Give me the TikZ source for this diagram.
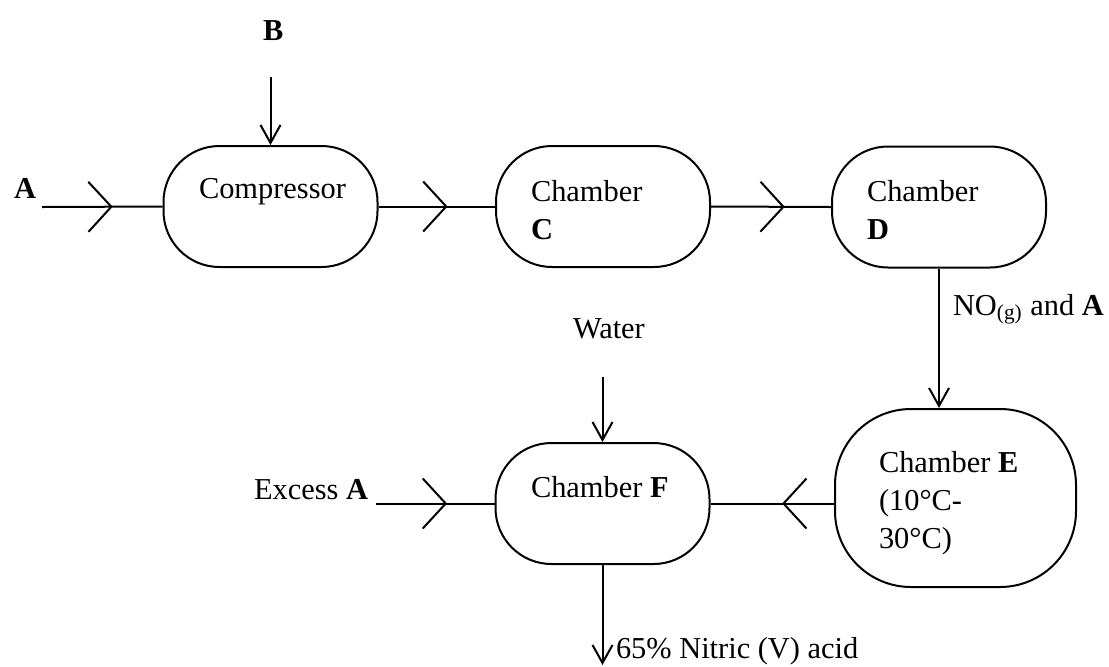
\documentclass[tikz,border=0pt]{standalone}
\usepackage{fontspec}
\setmainfont{Liberation Serif}
\usetikzlibrary{arrows.meta,decorations.markings}

\tikzset{flow/.style={postaction={decorate},
    decoration={markings,mark=at position #1 with {\arrow{Straight Barb[length=11.5pt,width=25pt]}}}}}

\begin{document}
\begin{tikzpicture}[x=0.5pt,y=-0.5pt,line width=1pt,>={Straight Barb[length=9pt,width=10pt]}]
    \tikzstyle{every node}=[font=\fontsize{15.2}{19}\selectfont]
    \tikzstyle{chamber}=[draw,rounded corners=28pt,minimum width=107pt,minimum height=60.5pt,inner sep=0pt]
    \tikzstyle{txt}=[inner sep=0pt,anchor=base west]
    \tikzstyle{blk}=[inner sep=0pt,anchor=north west,align=left]
    \useasboundingbox (0,0) rectangle (1109,666);

    % chambers
    \node[chamber] (comp) at (270.5,206.5) {};
    \node[chamber] (C) at (603,206.5) {};
    \node[chamber] (D) at (939,207) {};
    \node[chamber] (F) at (602.5,503.5) {};
    \node[chamber, rounded corners=38pt, minimum width=120.5pt, minimum height=89pt] (E) at (955.5,498) {};

    % texts inside
    \node[txt] (comp-t) at (198,198) {Compressor};
    \node[blk] (C-t) at (530,179) {Chamber\\\textbf{C}};
    \node[blk] (D-t) at (866,179) {Chamber\\\textbf{D}};
    \node[blk] (E-t) at (878,450) {Chamber \textbf{E}\\(10°C-\\30°C)};
    \node[txt] (F-t) at (530,497) {Chamber \textbf{F}};

    % outside labels
    \node[txt] (A-l) at (13,198) {\textbf{A}};
    \node[txt] (B-l) at (262,40) {\textbf{B}};
    \node[txt] (NO-l) at (952,315) {NO\textsubscript{(g)} and \textbf{A}};
    \node[txt] (W-l) at (572,338) {Water};
    \node[txt] (X-l) at (253,499) {Excess \textbf{A}};
    \node[txt] (acid-l) at (615,658) {65\% Nitric (V) acid};

    \coordinate (A-in) at (42,207);
    \coordinate (B-in) at (270.5,77);
    \coordinate (W-in) at (602.5,377);
    \coordinate (X-in) at (376,503.5);
    \coordinate (out) at (602.5,665);

    % flows
    \draw[flow=0.587] (A-in) -- (comp.west);
    \draw[flow=0.593] (comp.east) -- (C.west);
    \draw[flow=0.615] (C.east) -- (D.west);
    \draw[flow=0.6] (X-in) -- (F.west);
    \draw[flow=0.42] (E.west |- F.east) -- (F.east);
    \draw[->] (B-in) -- (comp.north);
    \draw[->] (D.south) -- (D.south |- E.north);
    \draw[->] (W-in) -- (F.north);
    \draw[->] (F.south) -- (out);
\end{tikzpicture}
\end{document}
